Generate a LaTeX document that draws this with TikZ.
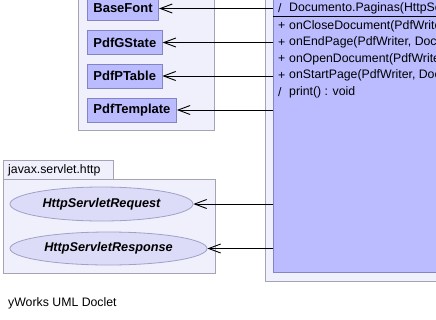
\documentclass[tikz,border=0pt]{standalone}
\usepackage{fontspec}
\setmainfont{Liberation Sans}
\usetikzlibrary{arrows.meta,shapes.geometric}

\definecolor{pkgfill}{HTML}{F0F0FC}
\definecolor{pkgline}{HTML}{A4A4B4}
\definecolor{clsfill}{HTML}{BBBBFF}
\definecolor{clsline}{HTML}{8484C4}
\definecolor{ifcfill}{HTML}{DCDCF8}
\definecolor{ifcline}{HTML}{A0A0C8}

\newcommand{\umlfont}{\fontsize{12.3}{14}\selectfont}
\newcommand{\umlbold}{\fontsize{13}{15}\selectfont\bfseries}

\tikzset{
  pkg/.style={draw=pkgline, fill=pkgfill, line width=0.8pt},
  cls/.style={draw=clsline, fill=clsfill, line width=0.8pt, font=\umlbold,
    inner xsep=6pt, inner ysep=0pt, minimum height=24pt, anchor=west},
  ifc/.style={ellipse, draw=ifcline, fill=ifcfill, line width=0.8pt,
    font=\fontsize{12.7}{15}\selectfont\bfseries\itshape, inner sep=0pt},
  member/.style={font=\umlfont, anchor=west, inner sep=0pt},
  dep/.style={line width=0.9pt, -{Straight Barb[length=12pt,width=9pt]}},
}

\begin{document}
\begin{tikzpicture}[x=1pt, y=-1pt]
  \useasboundingbox (0,0) rectangle (436,319);
  \clip (0,0) rectangle (436,319);

  % packages
  \draw[pkg] (78,-10) rectangle (214,130);
  \draw[pkg] (3,160) rectangle (113,179);
  \draw[pkg] (3,179) rectangle (215,273);
  \node[member] (pkgname) at (8,170) {javax.servlet.http};

  % the Documento class
  \draw[pkg] (265,-10) rectangle (450,281);
  \node[draw=clsline, fill=clsfill, line width=0.8pt, minimum width=190pt,
        minimum height=300pt, anchor=south west] (doc) at (273,273) {};
  \draw[line width=0.8pt] (273,16) -- (450,16);
  \node[member] (ctorm) at (278,8.5) {/};
  \node[member] (ctor) at (289,8.5) {Documento.Paginas(HttpServletRequest, HttpServletResponse)};
  \foreach \m/\s/\y in {{+}/{onCloseDocument(PdfWriter, Document) : void}/26,
                        {+}/{onEndPage(PdfWriter, Document) : void}/42.5,
                        {+}/{onOpenDocument(PdfWriter, Document) : void}/59,
                        {+}/{onStartPage(PdfWriter, Document) : void}/75.5,
                        {/}/{print() : void}/92} {
    \node[member] at (278,\y) {\m};
    \node[member] at (289,\y) {\s};
  }

  % used classes
  \node[cls] (basefont) at (87,8.5) {BaseFont};
  \node[cls] (gstate) at (87,42.5) {PdfGState};
  \node[cls] (ptable) at (87,76) {PdfPTable};
  \node[cls] (template) at (87,110) {PdfTemplate};

  % servlet interfaces
  \node[ifc, minimum width=183pt, minimum height=34pt] (request) at (101.5,204) {HttpServletRequest};
  \node[ifc, minimum width=197pt, minimum height=33pt] (response) at (108.5,248.5) {HttpServletResponse};

  % dependencies
  \foreach \t in {basefont,gstate,ptable,template,request,response}
    \draw[dep] (doc.west |- \t.east) -- (\t.east);

  \node[member] (doclet) at (8,303) {yWorks UML Doclet};
\end{tikzpicture}
\end{document}
